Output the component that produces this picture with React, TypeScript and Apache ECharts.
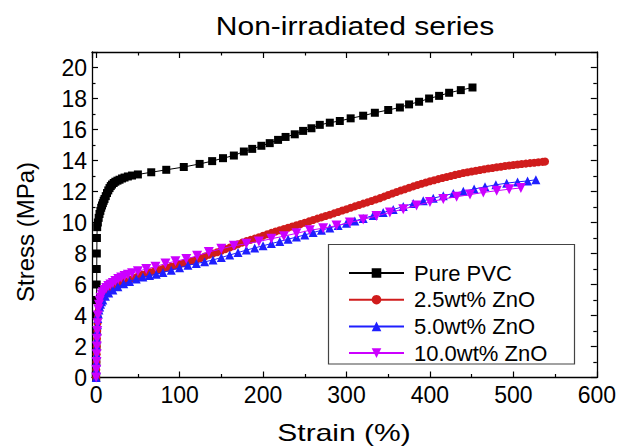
import React, { useEffect, useRef } from 'react';
import * as echarts from 'echarts';

const chartTitle = 'Non-irradiated series';
const xAxisName = 'Strain (%)';
const yAxisName = 'Stress (MPa)';
const seriesNames = ['Pure PVC', '2.5wt% ZnO', '5.0wt% ZnO', '10.0wt% ZnO'];
const seriesColors = ['#000000', '#d01c1c', '#1f1fff', '#cc00ff'];

// [strain %, stress MPa]
const pvcData = [
  [0, 0], [0.1, 1], [0.2, 2], [0.3, 3], [0.4, 4], [0.5, 5], [0.6, 6], [0.7, 7], [0.8, 8], [0.9, 9],
  [1.2, 9.7], [2, 10.0], [3, 10.3], [4, 10.55], [5, 10.75], [6, 10.95], [7, 11.1], [8, 11.25], [9, 11.4], [10, 11.52],
  [11.5, 11.7], [13, 11.9], [14.5, 12.07], [16, 12.22], [17.5, 12.35], [19, 12.45], [21, 12.55], [23, 12.63], [25.5, 12.7], [28, 12.76],
  [31, 12.84], [34, 12.9], [38, 12.97], [43, 13.03], [50, 13.1], [66, 13.24], [84, 13.4], [105, 13.58], [124, 13.78], [139, 13.96],
  [152, 14.15], [165, 14.32], [177, 14.58], [187, 14.75], [198, 14.95], [208, 15.12], [218, 15.33], [227, 15.52], [238, 15.69], [248, 15.91],
  [258, 16.08], [268, 16.3], [280, 16.44], [292, 16.55], [305, 16.72], [320, 16.89], [334, 17.08], [350, 17.26], [364, 17.42], [375, 17.62],
  [387, 17.79], [399, 18.0], [411, 18.17], [423, 18.37], [437, 18.54], [451, 18.71],
];

const zno25Data = [
  [0, 0], [0.2, 0.5], [0.4, 1], [0.6, 1.5], [0.8, 2], [1, 2.5], [1.3, 3], [1.6, 3.5], [2, 3.9], [2.6, 4.25],
  [3.3, 4.5], [4.2, 4.72], [5.2, 4.9], [6.5, 5.05], [8, 5.18], [10, 5.32], [12, 5.44], [14, 5.54], [16, 5.62], [18, 5.7],
  [20, 5.77], [22.5, 5.84], [25, 5.9], [30, 6.05], [35, 6.2], [40, 6.3], [45, 6.42], [50, 6.52], [55, 6.62], [60, 6.7],
  [65, 6.78], [70, 6.86], [75, 6.93], [80, 7.0], [85, 7.08], [90, 7.15], [95, 7.22], [100, 7.3], [105, 7.37], [110, 7.44],
  [115, 7.52], [120, 7.6], [125, 7.7], [130, 7.8], [135, 7.92], [140, 8.0], [145, 8.08], [150, 8.18], [155, 8.28], [160, 8.38],
  [165, 8.48], [170, 8.6], [175, 8.7], [180, 8.8], [185, 8.88], [190, 8.96], [195, 9.05], [200, 9.14], [205, 9.24], [210, 9.33],
  [215, 9.42], [220, 9.5], [225, 9.58], [230, 9.66], [235, 9.74], [240, 9.82], [245, 9.9], [250, 9.98], [255, 10.07], [260, 10.16],
  [265, 10.25], [270, 10.33], [275, 10.42], [280, 10.5], [285, 10.59], [290, 10.68], [295, 10.77], [300, 10.86], [305, 10.95], [310, 11.04],
  [315, 11.13], [320, 11.22], [325, 11.3], [330, 11.39], [335, 11.48], [340, 11.57], [345, 11.67], [350, 11.77], [355, 11.87], [360, 11.97],
  [365, 12.06], [370, 12.15], [375, 12.24], [380, 12.33], [385, 12.42], [390, 12.5], [395, 12.58], [400, 12.66], [405, 12.73], [410, 12.8],
  [415, 12.87], [420, 12.94], [425, 13.0], [430, 13.07], [435, 13.13], [440, 13.19], [445, 13.24], [450, 13.29], [455, 13.34], [460, 13.39],
  [465, 13.44], [470, 13.48], [475, 13.52], [480, 13.56], [485, 13.6], [490, 13.64], [495, 13.68], [500, 13.71], [505, 13.74], [510, 13.77],
  [515, 13.8], [520, 13.83], [525, 13.86], [530, 13.89], [535, 13.91], [538, 13.93],
];

const zno50Data = [
  [0, 0], [0.2, 0.5], [0.4, 1], [0.6, 1.5], [0.8, 2], [1, 2.5], [1.3, 3], [1.6, 3.4], [2, 3.8], [2.6, 4.1],
  [3.3, 4.35], [4.2, 4.55], [5.2, 4.72], [6.5, 4.88], [8, 5.0], [11, 5.25], [15, 5.45], [20, 5.65], [26, 5.85], [33, 6.05],
  [40, 6.2], [48, 6.35], [56, 6.48], [64, 6.58], [72, 6.66], [80, 6.78], [90, 6.92], [100, 7.08], [110, 7.24], [120, 7.35],
  [130, 7.46], [140, 7.58], [150, 7.74], [160, 7.9], [170, 8.06], [180, 8.22], [190, 8.36], [200, 8.5], [210, 8.64], [220, 8.78],
  [230, 8.92], [240, 9.06], [250, 9.2], [260, 9.35], [270, 9.5], [280, 9.65], [290, 9.8], [300, 9.95], [310, 10.1], [320, 10.26],
  [332, 10.45], [344, 10.64], [356, 10.84], [368, 11.03], [380, 11.22], [392, 11.4], [404, 11.57], [416, 11.72], [428, 11.87], [440, 12.01],
  [453, 12.16], [466, 12.3], [479, 12.43], [492, 12.54], [505, 12.62], [517, 12.68], [527, 12.76],
];

const zno100Data = [
  [0, 0], [0.2, 0.5], [0.4, 1], [0.6, 1.5], [0.8, 2], [1, 2.5], [1.3, 3], [1.6, 3.5], [2, 4], [2.6, 4.4],
  [3.3, 4.7], [4.2, 4.95], [5.2, 5.15], [6.5, 5.35], [8, 5.5], [10, 5.65], [12, 5.78], [14.5, 5.9], [17, 6.0], [20, 6.1],
  [23, 6.22], [26.5, 6.35], [30, 6.45], [34, 6.55], [38, 6.63], [43, 6.72], [50, 6.85], [60, 7.0], [71, 7.15], [83, 7.35],
  [95, 7.5], [108, 7.65], [121, 7.85], [135, 8.1], [150, 8.3], [165, 8.5], [180, 8.63], [195, 8.78], [210, 8.95], [225, 9.12],
  [240, 9.3], [256, 9.5], [272, 9.63], [288, 9.8], [304, 10.0], [320, 10.2], [336, 10.42], [352, 10.65], [368, 10.86], [384, 11.1],
  [400, 11.32], [416, 11.52], [432, 11.66], [448, 11.8], [464, 11.94], [480, 12.05], [495, 12.15], [509, 12.23],
];

const seriesData = [pvcData, zno25Data, zno50Data, zno100Data];
const seriesSymbols = ['rect', 'circle', 'triangle', 'triangle'];
const seriesSymbolSizes = [8, 8, 9, 10];
const seriesSymbolRotate = [0, 0, 0, 180];

const FONT = '"Liberation Sans", Arial, Helvetica, sans-serif';

export default function App() {
  const ref = useRef<HTMLDivElement>(null);

  useEffect(() => {
    if (!ref.current) return;
    const chart = echarts.init(ref.current, undefined, { renderer: 'svg' });

    const xBase = (pos: 'bottom' | 'top', showLabel: boolean) => ({
      type: 'value',
      position: pos,
      min: -5,
      max: 600,
      splitNumber: 6,
      axisLine: { show: true, onZero: false, lineStyle: { color: '#000', width: 1.3 } },
      axisTick: { show: true, inside: true, length: 6, lineStyle: { color: '#000', width: 1.2 } },
      minorTick: { show: true, splitNumber: 2, length: 3.5, lineStyle: { color: '#000', width: 1.2 } },
      splitLine: { show: false },
      axisLabel: {
        show: showLabel,
        showMinLabel: false,
        fontSize: 23,
        fontFamily: FONT,
        color: '#000',
        margin: 6,
        formatter: (v: number) => (v < 0 ? '' : String(Math.round(v))),
      },
    });

    const yBase = (pos: 'left' | 'right', showLabel: boolean) => ({
      type: 'value',
      position: pos,
      min: 0,
      max: 21,
      interval: 2,
      axisLine: { show: true, onZero: false, lineStyle: { color: '#000', width: 1.3 } },
      axisTick: { show: true, inside: true, length: 6, lineStyle: { color: '#000', width: 1.2 } },
      minorTick: { show: true, splitNumber: 2, length: 3.5, lineStyle: { color: '#000', width: 1.2 } },
      splitLine: { show: false },
      axisLabel: {
        show: showLabel,
        showMaxLabel: false,
        fontSize: 23,
        fontFamily: FONT,
        color: '#000',
        margin: 5,
      },
    });

    chart.setOption({
      animation: false,
      backgroundColor: '#fff',
      grid: { left: 92, right: 22, top: 52, bottom: 68.5, containLabel: false },
      xAxis: [xBase('bottom', true), xBase('top', false)],
      yAxis: [yBase('left', true), yBase('right', false)],
      legend: {
        data: seriesNames,
        orient: 'vertical',
        left: 348,
        top: 261,
        itemWidth: 55,
        itemHeight: 12,
        itemGap: 2.7,
        padding: 0,
        textStyle: { fontSize: 22, fontFamily: FONT, color: '#000', lineHeight: 24, padding: [0, 0, 0, 5] },
      },
      graphic: [
        {
          type: 'rect',
          z: -1,
          shape: { x: 328.5, y: 244.5, width: 246, height: 119.5 },
          style: { fill: '#fff', stroke: '#444', lineWidth: 1.2 },
        },
        {
          type: 'text',
          x: 355,
          y: 26,
          scaleX: 1.2,
          style: { text: chartTitle, font: `25px ${FONT}`, fill: '#000', textAlign: 'center', textVerticalAlign: 'middle' },
        },
        {
          type: 'text',
          x: 344,
          y: 433,
          scaleX: 1.25,
          style: { text: xAxisName, font: `24px ${FONT}`, fill: '#000', textAlign: 'center', textVerticalAlign: 'middle' },
        },
        {
          type: 'text',
          x: 25,
          y: 232,
          rotation: Math.PI / 2,
          style: { text: yAxisName, font: `24px ${FONT}`, fill: '#000', textAlign: 'center', textVerticalAlign: 'middle' },
        },
      ],
      series: seriesNames.map((name, i) => ({
        name,
        type: 'line',
        data: seriesData[i],
        xAxisIndex: 0,
        yAxisIndex: 0,
        symbol: seriesSymbols[i],
        symbolSize: seriesSymbolSizes[i],
        symbolRotate: seriesSymbolRotate[i],
        showAllSymbol: true,
        color: seriesColors[i],
        lineStyle: { color: seriesColors[i], width: 1 },
        itemStyle: { color: seriesColors[i] },
        clip: false,
        z: 2 + i,
      })),
    });

    return () => chart.dispose();
  }, []);

  return (
    <div
      ref={ref}
      style={{ position: 'fixed', left: 0, top: 0, width: 619, height: 446, background: '#fff' }}
    />
  );
}
